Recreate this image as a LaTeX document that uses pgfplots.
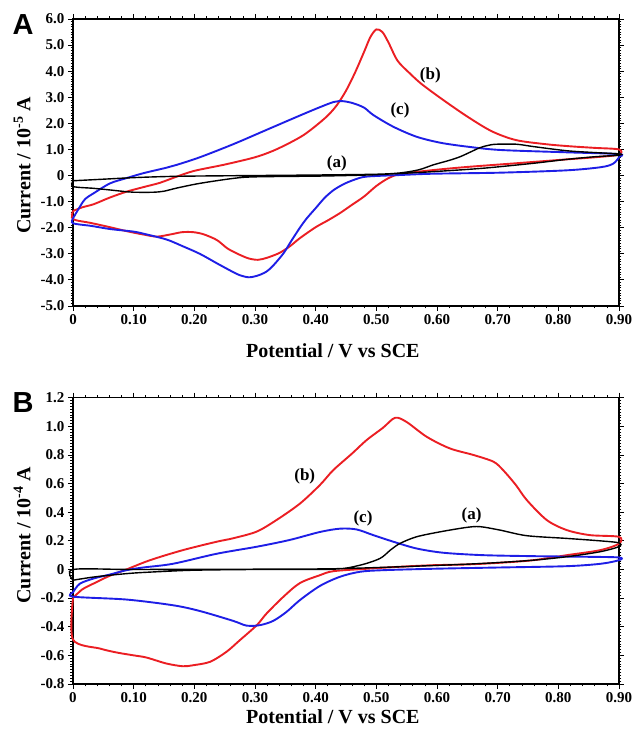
\documentclass[border=0pt]{standalone}
\usepackage{pgfplots}
\pgfplotsset{compat=1.18}
\usepackage{fontspec}
\setmainfont{Liberation Serif}
\newfontfamily\panelfont{Liberation Sans}
\definecolor{cvred}{RGB}{235,30,35}
\definecolor{cvblue}{RGB}{30,30,230}
\pgfplotsset{
  cvaxis/.style={
    scale only axis, width=546pt,
    xmin=0, xmax=0.9,
    xtick={0,0.1,0.2,0.3,0.4,0.5,0.6,0.7,0.8,0.9},
    xticklabels={0,0.10,0.20,0.30,0.40,0.50,0.60,0.70,0.80,0.90},
    minor x tick num=4, minor y tick num=9,
    tick align=outside, xtick pos=both, ytick pos=both,
    xticklabel pos=bottom, yticklabel pos=left,
    major tick length=5pt, minor tick length=2.5pt,
    tick style={black, line width=0.9pt},
    minor tick style={line width=0.7pt},
    axis line style={line width=1.5pt},
    ticklabel style={font=\fontsize{15}{15}\selectfont\bfseries},
    label style={font=\fontsize{20}{20}\selectfont\bfseries},
    clip=false,
  },
  redc/.style={cvred, line width=1.9pt, smooth, tension=0.5, no markers},
  bluec/.style={cvblue, line width=1.9pt, smooth, tension=0.5, no markers},
  blackc/.style={black, line width=1.4pt, smooth, tension=0.5, no markers},
}
\begin{document}
\begin{tikzpicture}
\useasboundingbox (0,0) rectangle (634pt,737pt);
% ---------------- Panel A ----------------
\begin{axis}[cvaxis, at={(73pt,431pt)}, anchor=south west, height=287pt,
  ymin=-5, ymax=6, ytick={-5,-4,-3,-2,-1,0,1,2,3,4,5,6},
  yticklabels={-5.0,-4.0,-3.0,-2.0,-1.0,0,1.0,2.0,3.0,4.0,5.0,6.0},
  xlabel={Potential / V vs SCE},
  xlabel style={at={(axis description cs:0.476,0)}, anchor=center, yshift=-45pt},
  ylabel={Current / 10\textsuperscript{-5} A},
  ylabel style={at={(axis description cs:-0.093,0.49)}, anchor=center},
]
\addplot[redc] coordinates {
(0,-1.36) (0.015,-1.22) (0.034,-1.1) (0.06,-0.85) (0.088,-0.62) (0.115,-0.45) (0.143,-0.28) (0.17,-0.05) (0.20,0.18) (0.25,0.42) (0.30,0.7) (0.33,0.95) (0.357,1.25) (0.38,1.55) (0.40,1.9) (0.42,2.3) (0.435,2.7) (0.45,3.25) (0.465,3.95) (0.48,4.75) (0.49,5.3) (0.5,5.6) (0.51,5.5) (0.52,5.1) (0.535,4.4) (0.555,3.92) (0.575,3.5) (0.61,2.9) (0.65,2.26) (0.69,1.7) (0.73,1.36) (0.78,1.2) (0.82,1.12) (0.86,1.06) (0.9,1.0)
(0.9,0.8) (0.86,0.7) (0.814,0.62) (0.73,0.47) (0.65,0.33) (0.594,0.21) (0.54,0.06) (0.52,-0.1) (0.5,-0.4) (0.48,-0.8) (0.46,-1.12) (0.44,-1.44) (0.42,-1.72) (0.40,-1.98) (0.374,-2.4) (0.357,-2.72) (0.34,-2.97) (0.32,-3.15) (0.305,-3.23) (0.29,-3.18) (0.275,-3.04) (0.255,-2.8) (0.237,-2.47) (0.215,-2.25) (0.198,-2.17) (0.18,-2.17) (0.16,-2.26) (0.138,-2.34) (0.116,-2.26) (0.09,-2.14) (0.061,-1.98) (0.03,-1.82) (0,-1.67) (0,-1.36)
};
\addplot[bluec] coordinates {
(0,-1.64) (0.0115,-1.19) (0.02,-0.9) (0.034,-0.68) (0.061,-0.3) (0.088,-0.1) (0.116,0.09) (0.154,0.3) (0.171,0.41) (0.209,0.7) (0.264,1.2) (0.319,1.75) (0.374,2.3) (0.407,2.62) (0.43,2.82) (0.445,2.85) (0.462,2.77) (0.48,2.6) (0.495,2.32) (0.528,1.87) (0.566,1.49) (0.605,1.26) (0.649,1.11) (0.704,0.98) (0.814,0.89) (0.9,0.82)
(0.9,0.7) (0.89,0.45) (0.87,0.32) (0.814,0.2) (0.704,0.11) (0.594,0.07) (0.539,0.02) (0.484,-0.04) (0.465,-0.15) (0.447,-0.32) (0.43,-0.55) (0.415,-0.85) (0.40,-1.25) (0.385,-1.65) (0.374,-2.0) (0.36,-2.5) (0.347,-2.98) (0.33,-3.45) (0.319,-3.68) (0.305,-3.83) (0.29,-3.9) (0.275,-3.82) (0.264,-3.7) (0.24,-3.4) (0.209,-3.0) (0.18,-2.7) (0.154,-2.45) (0.12,-2.25) (0.1,-2.15) (0.061,-2.05) (0.03,-1.93) (0,-1.83) (0,-1.64)
};
\addplot[blackc] coordinates {
(0,-0.2) (0.05,-0.14) (0.1,-0.08) (0.15,-0.04) (0.2,-0.02) (0.3,0.0) (0.4,0.02) (0.5,0.05) (0.539,0.1) (0.57,0.22) (0.594,0.41) (0.62,0.58) (0.638,0.72) (0.655,0.9) (0.671,1.07) (0.685,1.16) (0.698,1.2) (0.731,1.2) (0.759,1.11) (0.814,0.95) (0.86,0.88) (0.9,0.83)
(0.9,0.78) (0.86,0.72) (0.814,0.62) (0.759,0.47) (0.676,0.28) (0.594,0.15) (0.539,0.08) (0.484,0.02) (0.407,-0.02) (0.30,-0.05) (0.264,-0.11) (0.209,-0.3) (0.171,-0.48) (0.15,-0.6) (0.132,-0.64) (0.10,-0.64) (0.088,-0.62) (0.06,-0.55) (0.034,-0.49) (0,-0.42) (0,-0.2)
};
\node[font=\fontsize{17}{17}\selectfont\bfseries] at (axis cs:0.589,3.82) {(b)};
\node[font=\fontsize{17}{17}\selectfont\bfseries] at (axis cs:0.539,2.51) {(c)};
\node[font=\fontsize{17}{17}\selectfont\bfseries] at (axis cs:0.435,0.47) {(a)};
\end{axis}
\node[font=\fontsize{29}{29}\selectfont\panelfont\bfseries] at (23pt,712pt) {A};
% ---------------- Panel B ----------------
\begin{axis}[cvaxis, at={(73pt,53pt)}, anchor=south west, height=286.3pt,
  ymin=-0.8, ymax=1.2, ytick={-0.8,-0.6,-0.4,-0.2,0,0.2,0.4,0.6,0.8,1.0,1.2},
  yticklabels={-0.8,-0.6,-0.4,-0.2,0,0.2,0.4,0.6,0.8,1.0,1.2},
  xlabel={Potential / V vs SCE},
  xlabel style={at={(axis description cs:0.476,0)}, anchor=center, yshift=-33pt},
  ylabel={Current / 10\textsuperscript{-4} A},
  ylabel style={at={(axis description cs:-0.093,0.52)}, anchor=center},
]
\addplot[redc] coordinates {
(0,-0.2) (0.015,-0.14) (0.034,-0.098) (0.06,-0.045) (0.088,0.0) (0.127,0.065) (0.181,0.135) (0.237,0.194) (0.264,0.218) (0.303,0.265) (0.336,0.347) (0.374,0.46) (0.407,0.59) (0.429,0.694) (0.46,0.81) (0.484,0.904) (0.511,0.99) (0.531,1.06) (0.55,1.03) (0.583,0.927) (0.621,0.846) (0.66,0.8) (0.693,0.753) (0.709,0.694) (0.73,0.59) (0.748,0.485) (0.781,0.345) (0.814,0.275) (0.852,0.24) (0.9,0.228)
(0.9,0.18) (0.869,0.135) (0.814,0.1) (0.759,0.065) (0.704,0.047) (0.649,0.035) (0.594,0.03) (0.539,0.019) (0.484,0.005) (0.429,-0.012) (0.407,-0.04) (0.374,-0.095) (0.347,-0.19) (0.319,-0.308) (0.303,-0.389) (0.275,-0.494) (0.253,-0.575) (0.226,-0.645) (0.198,-0.669) (0.181,-0.676) (0.154,-0.657) (0.121,-0.615) (0.10,-0.6) (0.072,-0.58) (0.045,-0.553) (0,-0.49) (0,-0.2)
};
\addplot[bluec] coordinates {
(0,-0.16) (0.011,-0.1) (0.034,-0.063) (0.061,-0.035) (0.088,-0.005) (0.116,0.014) (0.165,0.04) (0.237,0.11) (0.303,0.159) (0.357,0.206) (0.407,0.262) (0.44,0.285) (0.467,0.28) (0.495,0.24) (0.528,0.194) (0.566,0.147) (0.61,0.117) (0.676,0.1) (0.759,0.093) (0.841,0.089) (0.9,0.084)
(0.9,0.065) (0.87,0.04) (0.814,0.023) (0.704,0.014) (0.594,0.005) (0.511,-0.005) (0.473,-0.016) (0.44,-0.051) (0.407,-0.115) (0.374,-0.214) (0.352,-0.296) (0.33,-0.359) (0.308,-0.389) (0.286,-0.392) (0.264,-0.359) (0.209,-0.29) (0.165,-0.25) (0.088,-0.21) (0,-0.19) (0,-0.16)
};
\addplot[blackc] coordinates {
(0,-0.075) (0.03,-0.055) (0.061,-0.04) (0.1,-0.025) (0.143,-0.015) (0.2,-0.005) (0.3,0.0) (0.429,0.002) (0.473,0.03) (0.506,0.077) (0.523,0.135) (0.539,0.182) (0.566,0.228) (0.605,0.263) (0.649,0.294) (0.671,0.299) (0.704,0.275) (0.748,0.236) (0.814,0.217) (0.869,0.2) (0.9,0.186)
(0.9,0.16) (0.869,0.124) (0.814,0.089) (0.759,0.065) (0.704,0.049) (0.649,0.037) (0.539,0.019) (0.429,0.005) (0.3,0.002) (0.1,0.0) (0,0.0) (0,-0.075)
};
\node[font=\fontsize{17}{17}\selectfont\bfseries] at (axis cs:0.382,0.652) {(b)};
\node[font=\fontsize{17}{17}\selectfont\bfseries] at (axis cs:0.478,0.357) {(c)};
\node[font=\fontsize{17}{17}\selectfont\bfseries] at (axis cs:0.657,0.38) {(a)};
\end{axis}
\node[font=\fontsize{29}{29}\selectfont\panelfont\bfseries] at (23pt,334pt) {B};
\end{tikzpicture}
\end{document}
